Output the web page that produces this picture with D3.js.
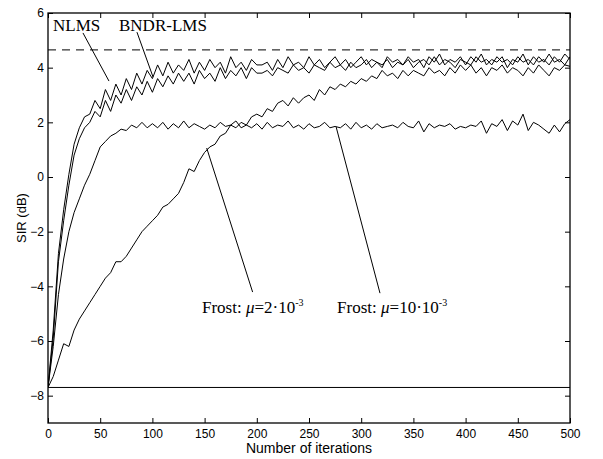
<!DOCTYPE html>
<html><head><meta charset="utf-8">
<script src="https://cdn.jsdelivr.net/npm/d3@7"></script>
<style>body{margin:0;background:#fff}</style>
</head><body>
<svg id="c" width="603" height="459"></svg>
<script>
const iterations = d3.range(0, 501, 5);
const nlms = [-7.7,-5.6,-2.8,-1.2,0.1,1.2,1.8,2.2,2.3,2.8,2.5,3.2,2.8,3.4,3.0,3.6,3.2,3.8,3.4,3.9,3.6,4.1,3.7,4.2,3.8,4.1,3.9,4.3,3.8,4.2,3.9,4.3,4.0,4.2,3.8,4.4,4.0,4.2,3.9,4.3,4.1,4.1,4.2,3.9,4.3,4.0,4.4,4.1,4.2,4.0,4.4,4.1,4.3,4.0,4.2,4.4,4.1,4.3,4.0,4.2,4.4,4.1,4.3,4.2,4.0,4.4,4.2,4.3,4.1,4.4,4.2,4.3,4.0,4.4,4.2,4.5,4.1,4.3,4.2,4.4,4.1,4.4,4.2,4.5,4.1,4.3,4.2,4.4,4.0,4.3,4.2,4.5,4.1,4.4,4.2,4.3,4.1,4.4,4.2,4.5,4.3];
const bndr = [-7.7,-5.9,-3.1,-1.6,-0.3,0.8,1.4,1.8,2.0,2.4,2.2,2.8,2.4,3.0,2.7,3.2,2.8,3.3,3.0,3.5,3.1,3.6,3.3,3.7,3.4,3.8,3.5,3.8,3.4,3.9,3.6,3.8,3.5,4.0,3.6,3.9,3.7,4.0,3.6,4.0,3.8,3.8,3.9,3.7,4.0,3.9,3.8,4.1,3.9,4.0,3.8,4.1,4.0,3.9,4.2,4.0,4.1,3.9,4.2,4.0,4.1,4.3,4.0,4.2,4.1,4.3,4.0,4.2,4.1,4.3,4.0,4.2,4.3,4.1,4.4,4.1,4.3,4.2,4.0,4.3,4.2,4.1,4.4,4.2,4.3,4.1,4.4,4.2,4.3,4.1,4.4,4.2,4.3,4.1,4.4,4.2,4.5,4.2,4.3,4.1,4.4];
const frost10 = [-7.7,-6.2,-4.3,-3.0,-2.0,-1.3,-0.8,-0.3,0.1,0.6,1.1,1.3,1.5,1.6,1.75,1.7,1.9,1.8,2.0,1.8,1.95,1.8,2.0,1.75,1.95,1.8,2.05,1.8,1.95,1.85,1.75,1.9,1.8,2.0,1.85,1.9,2.05,1.8,1.9,1.8,1.95,1.75,2.0,1.8,1.9,1.85,2.05,1.8,1.9,1.75,1.95,1.8,1.85,2.0,1.8,1.85,1.8,1.95,1.75,2.0,1.8,1.9,1.75,1.95,1.8,1.85,1.9,1.8,2.0,1.85,1.8,2.05,1.65,1.95,1.8,1.9,1.85,1.95,1.75,1.85,1.8,1.9,1.85,2.05,1.6,1.95,1.85,2.1,1.7,2.05,1.9,2.3,1.7,2.0,1.9,1.75,1.6,1.9,1.65,1.95,2.1];
const frost2 = [-7.7,-7.3,-6.7,-6.1,-6.2,-5.6,-5.2,-4.9,-4.6,-4.3,-4.0,-3.7,-3.5,-3.1,-3.1,-2.9,-2.6,-2.3,-2.0,-1.8,-1.6,-1.4,-1.1,-1.0,-0.8,-0.6,-0.2,0.3,0.2,0.6,0.9,1.1,1.2,1.5,1.6,1.9,1.8,2.0,1.9,2.2,2.3,2.2,2.5,2.4,2.7,2.8,2.6,2.9,2.7,2.9,3.0,2.8,3.2,3.0,3.3,3.2,3.4,3.3,3.5,3.4,3.6,3.5,3.7,3.6,3.9,3.7,3.8,3.6,3.9,3.7,3.9,3.8,3.7,4.0,3.8,3.9,3.7,4.0,3.8,4.1,3.9,4.1,3.8,4.0,3.7,4.0,3.9,4.1,3.8,4.0,3.9,3.7,4.0,3.8,4.1,3.9,3.7,4.0,3.9,4.1,4.05];
const xTicks = [0,50,100,150,200,250,300,350,400,450,500];
const yTicks = [-8,-6,-4,-2,0,2,4,6];
const optimumLevel = 4.65;
const initialLevel = -7.7;

const svg = d3.select("#c");
const x = d3.scaleLinear([0,500],[48,570]);
const y = d3.scaleLinear([-9,6],[423,13]);
const font = "'Liberation Sans', Arial, sans-serif";
const serif = "'Liberation Serif', 'Times New Roman', serif";

svg.append("clipPath").attr("id","clip").append("rect")
  .attr("x",48).attr("y",13).attr("width",522).attr("height",410);

const g = svg.append("g").attr("clip-path","url(#clip)");
g.append("line").attr("x1",x(0)).attr("x2",x(500)).attr("y1",y(optimumLevel)).attr("y2",y(optimumLevel))
  .attr("stroke","#000").attr("stroke-width",1).attr("stroke-dasharray","8,6");
g.append("line").attr("x1",x(0)).attr("x2",x(500)).attr("y1",y(initialLevel)).attr("y2",y(initialLevel))
  .attr("stroke","#000").attr("stroke-width",1);

const line = d3.line().x((d,i)=>x(iterations[i])).y(d=>y(d));
[nlms,bndr,frost10,frost2].forEach(s=>{
  g.append("path").datum(s).attr("d",line).attr("fill","none").attr("stroke","#000").attr("stroke-width",1);
});

function styleAxis(sel){
  sel.select(".domain").remove();
  sel.selectAll("line").attr("stroke","#000");
  sel.selectAll("text").attr("font-family",font).attr("font-size",12).attr("fill","#000");
}
svg.append("g").attr("transform","translate(0,423)")
  .call(d3.axisBottom(x).tickValues(xTicks).tickSize(-5).tickPadding(6.5).tickFormat(d3.format("d"))).call(styleAxis);
svg.append("g").attr("transform","translate(0,13)")
  .call(d3.axisTop(x).tickValues(xTicks).tickSize(-5).tickFormat("")).call(styleAxis);
svg.append("g").attr("transform","translate(48,0)")
  .call(d3.axisLeft(y).tickValues(yTicks).tickSize(-5).tickPadding(4)).call(styleAxis);
svg.append("g").attr("transform","translate(570,0)")
  .call(d3.axisRight(y).tickValues(yTicks).tickSize(-5).tickFormat("")).call(styleAxis);

svg.append("rect").attr("x",48).attr("y",13).attr("width",522).attr("height",410)
  .attr("fill","none").attr("stroke","#000").attr("stroke-width",1.3);

svg.append("text").attr("x",309).attr("y",453).attr("text-anchor","middle")
  .attr("font-family",font).attr("font-size",14).text("Number of iterations");
svg.append("text").attr("transform","translate(26,218) rotate(-90)").attr("text-anchor","middle")
  .attr("font-family",font).attr("font-size",13).text("SIR (dB)");

const ann = svg.append("g");
function pointer(a,b,c,d){
  ann.append("line").attr("x1",x(a)).attr("y1",y(b)).attr("x2",x(c)).attr("y2",y(d))
    .attr("stroke","#000").attr("stroke-width",1);
}
pointer(33.5,5.27,58.4,3.51);
pointer(85.2,5.30,100.6,3.66);
pointer(196,-4.21,152,1.06);
pointer(318,-4.25,276,1.83);

ann.append("text").attr("x",x(4.8)).attr("y",y(5.34)).attr("font-family",serif).attr("font-size",17).text("NLMS");
ann.append("text").attr("x",x(68)).attr("y",y(5.34)).attr("font-family",serif).attr("font-size",17).text("BNDR-LMS");

function frostLabel(xi, val, coef){
  const t = ann.append("text").attr("x",x(xi)).attr("y",y(val)).attr("font-family",serif).attr("font-size",17);
  t.append("tspan").text("Frost: ");
  t.append("tspan").attr("font-style","italic").text("μ");
  t.append("tspan").text("=" + coef + "·10");
  t.append("tspan").attr("font-size",10).attr("dy",-7).text("-3");
}
frostLabel(147.5,-4.98,"2");
frostLabel(276.9,-4.98,"10");
</script>
</body></html>
